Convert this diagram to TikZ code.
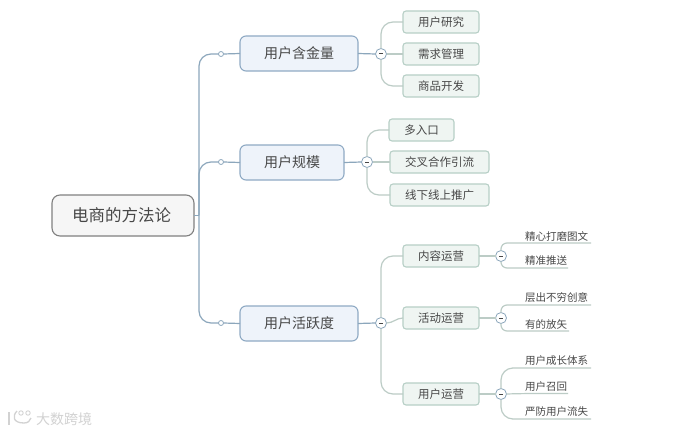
\documentclass[tikz,border=0pt]{standalone}
\usepackage{fontspec}
\setmainfont{Noto Sans CJK SC}
\definecolor{inkgray}{HTML}{474747}
\definecolor{rootedge}{HTML}{808080}
\definecolor{rootfill}{HTML}{F6F6F6}
\definecolor{midedge}{HTML}{8FAAC4}
\definecolor{midfill}{HTML}{EEF3FA}
\definecolor{subedge}{HTML}{B7CFC6}
\definecolor{subfill}{HTML}{EFF5F2}
\definecolor{trunkcol}{HTML}{8CA7BC}
\definecolor{twigcol}{HTML}{BCCCC6}
\definecolor{markcol}{HTML}{D2D2D2}
\begin{document}
\begin{tikzpicture}[x=1pt,y=-1pt,inner sep=0pt,outer sep=0pt,
rootblock/.style={draw=rootedge,fill=rootfill,rectangle,rounded corners=8pt,line width=1.1pt,text=inkgray,font=\fontsize{16.5}{18}\selectfont,minimum width=142pt,minimum height=41pt},
midblock/.style={draw=midedge,fill=midfill,rectangle,rounded corners=6pt,line width=1.1pt,text=inkgray,font=\fontsize{14}{16}\selectfont,minimum height=35pt},
subblock/.style={draw=subedge,fill=subfill,rectangle,rounded corners=3pt,line width=1.1pt,text=inkgray,font=\fontsize{11.5}{13}\selectfont,minimum height=22pt},
leafblock/.style={anchor=south west,text=inkgray,font=\fontsize{10.5}{12}\selectfont,minimum height=14pt,inner xsep=1pt,align=left},
knob/.style={draw=trunkcol,fill=white,circle,line width=0.8pt,minimum size=5pt},
fold/.style={draw=trunkcol,fill=white,circle,line width=0.8pt,minimum size=11pt,
path picture={\draw[inkgray,line width=1pt] (-2pt,0pt) -- (2pt,0pt);}},
trunk/.style={draw=trunkcol,line width=1.2pt,rounded corners=12pt},
twig/.style={draw=twigcol,line width=1.2pt,rounded corners=12pt},
leaftwig/.style={draw=twigcol,line width=1.2pt,rounded corners=6pt}]
\useasboundingbox (0,0) rectangle (693,433);
\fill[white] (0,0) rectangle (693,433);
\draw (123,215.5) node[rootblock] (root) {\hspace{-3pt}电商的方法论};
\draw (199,215.5) coordinate (fork);
\draw (221,54) node[knob] (knob1) {};
\draw (221,162) node[knob] (knob2) {};
\draw (221,323) node[knob] (knob3) {};
\draw (299,53.5) node[midblock,minimum width=118pt] (gold) {用户含金量};
\draw (292,162.5) node[midblock,minimum width=104pt] (scale) {用户规模};
\draw (299,323.5) node[midblock,minimum width=118pt] (active) {用户活跃度};
\draw (381,54) node[fold] (fold1) {};
\draw (367,162) node[fold] (fold2) {};
\draw (381,323) node[fold] (fold3) {};
\draw (441,22) node[subblock,minimum width=76pt] (research) {用户研究};
\draw (441,54) node[subblock,minimum width=76pt] (demand) {需求管理};
\draw (441,86) node[subblock,minimum width=76pt] (goods) {商品开发};
\draw (421.5,130) node[subblock,minimum width=65pt] (entry) {多入口};
\draw (439.5,162) node[subblock,minimum width=99pt] (cross) {交叉合作引流};
\draw (439.5,195) node[subblock,minimum width=99pt] (offline) {线下线上推广};
\draw (441,256) node[subblock,minimum width=76pt] (content) {内容运营};
\draw (441,318) node[subblock,minimum width=76pt] (event) {活动运营};
\draw (441,394) node[subblock,minimum width=76pt] (user) {用户运营};
\draw (501,256) node[fold] (fold4) {};
\draw (501,318) node[fold] (fold5) {};
\draw (501,394) node[fold] (fold6) {};
\draw (524,243) node[leafblock,text width=65pt] (leaf1) {精心打磨图文};
\draw (524,268) node[leafblock,text width=42pt] (leaf2) {精准推送};
\draw (524,305) node[leafblock,text width=65pt] (leaf3) {层出不穷创意};
\draw (524,331) node[leafblock,text width=43pt] (leaf4) {有的放矢};
\draw (524,368) node[leafblock,text width=65pt] (leaf5) {用户成长体系};
\draw (524,393.5) node[leafblock,text width=42pt] (leaf6) {用户召回};
\draw (524,419) node[leafblock,text width=65pt] (leaf7) {严防用户流失};
% main branches
\draw[trunk] (root.0) -- (fork);
\draw[trunk] (fork) |- (knob1.180);
\draw[trunk] (fork) |- (knob2.180);
\draw[trunk] (fork) |- (knob3.180);
\draw[trunk] (knob1.0) -- (gold.180);
\draw[trunk] (knob2.0) -- (scale.180);
\draw[trunk] (knob3.0) -- (active.180);
\draw[trunk] (gold.0) -- (fold1.180);
\draw[trunk] (scale.0) -- (fold2.180);
\draw[trunk] (active.0) -- (fold3.180);
% second level
\draw[twig] (fold1.90) |- (research.180);
\draw[twig] (fold1.0) -- (demand.180);
\draw[twig] (fold1.-90) |- (goods.180);
\draw[twig] (fold2.90) |- (entry.180);
\draw[twig] (fold2.0) -- (cross.180);
\draw[twig] (fold2.-90) |- (offline.180);
\draw[twig] (fold3.90) |- (content.180);
\draw[twig] (fold3.0) to[out=0,in=180] (event.180);
\draw[twig] (fold3.-90) |- (user.180);
\draw[twig] (content.0) -- (fold4.180);
\draw[twig] (event.0) -- (fold5.180);
\draw[twig] (user.0) -- (fold6.180);
% leaves
\draw[leaftwig] (fold4.90) |- (leaf1.south west) -- (leaf1.south east);
\draw[leaftwig] (fold4.-90) |- (leaf2.south west) -- (leaf2.south east);
\draw[leaftwig] (fold5.90) |- (leaf3.south west) -- (leaf3.south east);
\draw[leaftwig] (fold5.-90) |- (leaf4.south west) -- (leaf4.south east);
\draw[twig] (fold6.90) |- (leaf5.south west) -- (leaf5.south east);
\draw[twig] (fold6.0) -- (leaf6.south west) -- (leaf6.south east);
\draw[twig] (fold6.-90) |- (leaf7.south west) -- (leaf7.south east);
% watermark
\draw[markcol,line width=1.3pt] (9,412) -- (9,425);
\draw[markcol,line width=1.3pt] (17,411) .. controls (12,416) and (13,423) .. (24,423) .. controls (28,423) and (30,421) .. (31,418);
\draw[markcol,line width=0.9pt] (21,413) circle (2.2) (28,413) circle (2.2);
\draw (64,419) node[text=markcol,font=\fontsize{14}{16}\selectfont] (mark) {大数跨境};
\end{tikzpicture}
\end{document}
